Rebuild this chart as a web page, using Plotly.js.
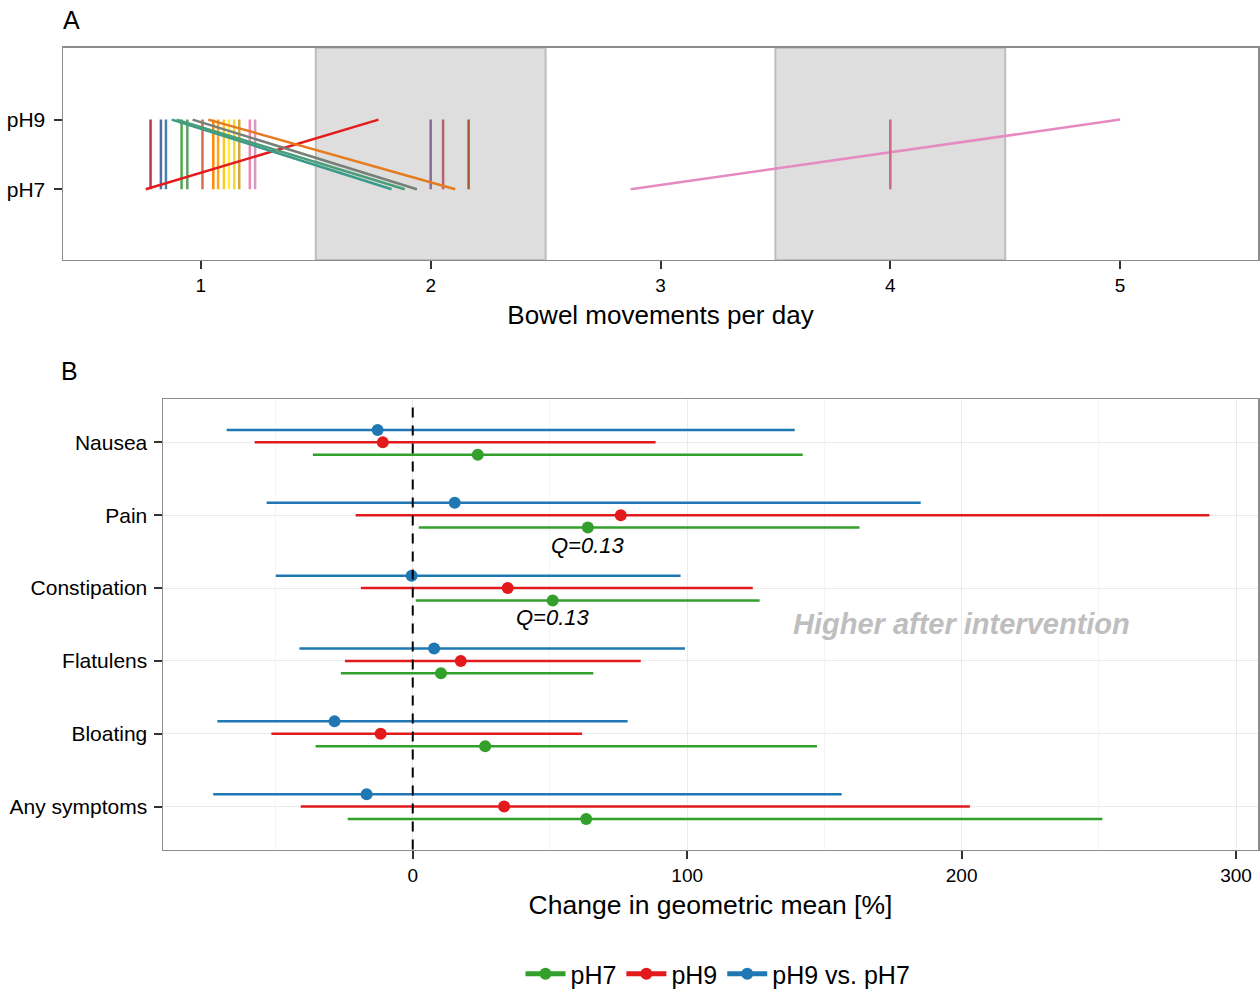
<!DOCTYPE html>
<html>
<head>
<meta charset="utf-8">
<script src="https://cdn.plot.ly/plotly-3.0.1.min.js"></script>
<style>html,body{margin:0;padding:0;background:#fff;}#chart{width:1260px;height:997px;}</style>
</head>
<body>
<div id="chart"></div>
<script>
// ---------- Panel A data: bowel movements per day per subject ----------
const phLevels = ['pH7', 'pH9'];
const subjectPH7 = [0.781, 0.826, 0.848, 0.916, 0.941, 1.007, 1.054, 1.075, 1.100, 1.122, 1.145, 1.167, 1.213, 1.236, 2.000, 2.054, 2.165, 0.760, 1.830, 1.887, 1.940, 2.107, 2.870, 4.000];
const subjectPH9 = [0.781, 0.826, 0.848, 0.916, 0.941, 1.007, 1.054, 1.075, 1.100, 1.122, 1.145, 1.167, 1.213, 1.236, 2.000, 2.054, 2.165, 1.773, 0.873, 0.894, 0.964, 1.032, 5.000, 4.000];
const subjectColors = ['#b83a4b', '#506ea0', '#4582b4', '#4da84b', '#5e9e60', '#d7704a', '#ff8a00', '#ffa61a', '#ffc62a', '#fff032', '#efd63a', '#d4a83a', '#ee86b6', '#d59cc0', '#8a6a9b', '#b4646e', '#a55a36', '#e41a1c', '#3c9a8a', '#489e78', '#768078', '#e67a1e', '#e68bc0', '#c86a88'];
const shadedBands = [[1.5, 2.5], [3.5, 4.5]];
const xTicksA = [1, 2, 3, 4, 5];

// ---------- Panel B data: change in geometric mean [%] ----------
const symptoms = ['Any symptoms', 'Bloating', 'Flatulens', 'Constipation', 'Pain', 'Nausea'];
const ph7Est  = [63.2, 26.4, 10.3, 51.0, 63.8, 23.7];
const ph7Low  = [-23.7, -35.4, -26.2, 1.1, 2.2, -36.4];
const ph7High = [251.3, 147.3, 65.8, 126.4, 162.8, 142.1];
const ph9Est  = [33.3, -11.7, 17.5, 34.6, 75.8, -10.9];
const ph9Low  = [-40.8, -51.5, -24.7, -18.9, -20.8, -57.6];
const ph9High = [203.0, 61.7, 83.1, 123.9, 290.3, 88.5];
const diffEst  = [-16.8, -28.5, 7.8, -0.4, 15.3, -12.8];
const diffLow  = [-72.7, -71.2, -41.3, -49.9, -53.2, -67.8];
const diffHigh = [156.3, 78.3, 99.2, 97.6, 185.1, 139.2];
const seriesNames = ['pH7', 'pH9', 'pH9 vs. pH7'];
const qLabels = [{symptom: 'Pain', text: 'Q=0.13'}, {symptom: 'Constipation', text: 'Q=0.13'}];
const xTicksB = [0, 100, 200, 300];
const xMinorB = [-50, 50, 150, 250];

const FONT = 'Liberation Sans, Arial, Helvetica, sans-serif';
const seriesColors = ['#33a02c', '#e31a1c', '#1f78b4'];
const seriesOffsets = [-0.17, 0, 0.17];

const traces = [];

// Panel A subject lines
subjectPH7.forEach((v7, i) => {
  traces.push({
    type: 'scatter', mode: 'lines', xaxis: 'x', yaxis: 'y',
    x: [v7, subjectPH9[i]], y: [1, 2],
    line: {color: subjectColors[i], width: 2.5},
    showlegend: false, hoverinfo: 'x+y'
  });
});

// Panel B intervals
const seriesData = [
  [ph7Est, ph7Low, ph7High],
  [ph9Est, ph9Low, ph9High],
  [diffEst, diffLow, diffHigh]
];
seriesData.forEach((s, k) => {
  const [est, lo, hi] = s;
  traces.push({
    type: 'scatter', mode: 'markers', xaxis: 'x2', yaxis: 'y2',
    x: est, y: symptoms.map((_, i) => i + 1 + seriesOffsets[k]),
    marker: {color: seriesColors[k], size: 12},
    error_x: {type: 'data', symmetric: false,
      array: hi.map((h, i) => h - est[i]),
      arrayminus: lo.map((l, i) => est[i] - l),
      color: seriesColors[k], thickness: 2.5, width: 0},
    name: seriesNames[k], showlegend: false, legendgroup: seriesNames[k]
  });
});
// legend entries
seriesData.forEach((s, k) => {
  traces.push({
    type: 'scatter', mode: 'lines+markers', xaxis: 'x2', yaxis: 'y2',
    x: [null], y: [null],
    marker: {color: seriesColors[k], size: 12},
    line: {color: seriesColors[k], width: 3},
    name: seriesNames[k], showlegend: true, legendgroup: seriesNames[k]
  });
});

const H = 997, W = 1260;
const shapes = [];
shadedBands.forEach(b => {
  shapes.push({type: 'rect', xref: 'x', yref: 'y domain', x0: b[0], x1: b[1], y0: 0, y1: 1,
    fillcolor: '#dedede', line: {color: '#bdbdbd', width: 2}, layer: 'below'});
});
shapes.push({type: 'line', xref: 'x2', yref: 'y2 domain', x0: 0, x1: 0, y0: 0, y1: 1,
  line: {color: '#000', width: 2, dash: '10px,8px'}, layer: 'above'});

const annotations = [
  {text: 'A', xref: 'paper', yref: 'paper', x: 61 / W, y: 1 - 20 / H, xanchor: 'left', yanchor: 'middle',
   showarrow: false, font: {family: FONT, size: 25, color: '#000'}},
  {text: 'B', xref: 'paper', yref: 'paper', x: 59 / W, y: 1 - 372 / H, xanchor: 'left', yanchor: 'middle',
   showarrow: false, font: {family: FONT, size: 25, color: '#000'}},
  {text: '<b><i>Higher after intervention</i></b>', xref: 'x2', yref: 'y2', x: 200, y: 3.5,
   showarrow: false, font: {family: FONT, size: 29, color: '#bebebe'}}
];
qLabels.forEach(q => {
  const i = symptoms.indexOf(q.symptom);
  annotations.push({text: '<i>' + q.text + '</i>', xref: 'x2', yref: 'y2',
    x: ph7Est[i], y: i + 1 - 0.41, showarrow: false,
    font: {family: FONT, size: 22, color: '#000'}});
});

const axisLine = {showline: true, mirror: true, linecolor: '#8c8c8c', linewidth: 1.5};
const tickStyle = {ticks: 'outside', ticklen: 8, tickwidth: 2, tickcolor: '#333'};

const layout = {
  width: W, height: H,
  margin: {l: 0, r: 0, t: 0, b: 0},
  paper_bgcolor: '#fff', plot_bgcolor: '#fff',
  font: {family: FONT, color: '#000'},
  showlegend: true,
  legend: {orientation: 'h', x: 718 / W, xanchor: 'center', y: 1 - 978 / H, yanchor: 'middle',
    itemwidth: 40,
    font: {family: FONT, size: 25, color: '#000'}, traceorder: 'normal', itemsizing: 'constant'},
  xaxis: Object.assign({domain: [63 / W, 1258 / W], anchor: 'y', range: [0.4, 5.6],
    tickvals: xTicksA, ticktext: xTicksA.map(String), showgrid: false, zeroline: false, automargin: false,
    tickfont: {size: 19, family: FONT, color: '#000'},
    title: {text: 'Bowel movements per day', font: {size: 26, family: FONT, color: '#000'}, standoff: 10}},
    axisLine, tickStyle),
  yaxis: Object.assign({domain: [1 - 261 / H, 1 - 48 / H], anchor: 'x', range: [-0.014, 3.03],
    tickvals: [1, 2], ticktext: phLevels, showgrid: false, zeroline: false, automargin: false,
    ticklabelstandoff: 4,
    tickfont: {size: 21, family: FONT, color: '#000'}}, axisLine, tickStyle),
  xaxis2: Object.assign({domain: [163 / W, 1258 / W], anchor: 'y2', range: [-91, 308],
    tickvals: xTicksB, ticktext: xTicksB.map(String), showgrid: true, gridcolor: '#ebebeb', gridwidth: 1,
    minor: {tickvals: xMinorB, showgrid: true, gridcolor: '#f5f5f5', gridwidth: 1, ticks: ''},
    zeroline: false, automargin: false,
    tickfont: {size: 19, family: FONT, color: '#000'},
    title: {text: 'Change in geometric mean [%]', font: {size: 26.5, family: FONT, color: '#000'}, standoff: 10}},
    axisLine, tickStyle),
  yaxis2: Object.assign({domain: [1 - 853 / H, 1 - 401 / H], anchor: 'x2', range: [0.41, 6.59],
    tickvals: symptoms.map((_, i) => i + 1), ticktext: symptoms,
    showgrid: true, gridcolor: '#ebebeb', gridwidth: 1, zeroline: false, automargin: false,
    ticklabelstandoff: 2,
    tickfont: {size: 21, family: FONT, color: '#000'}}, axisLine, tickStyle),
  shapes: shapes,
  annotations: annotations
};

Plotly.newPlot('chart', traces, layout, {displayModeBar: false, staticPlot: true});
</script>
</body>
</html>
